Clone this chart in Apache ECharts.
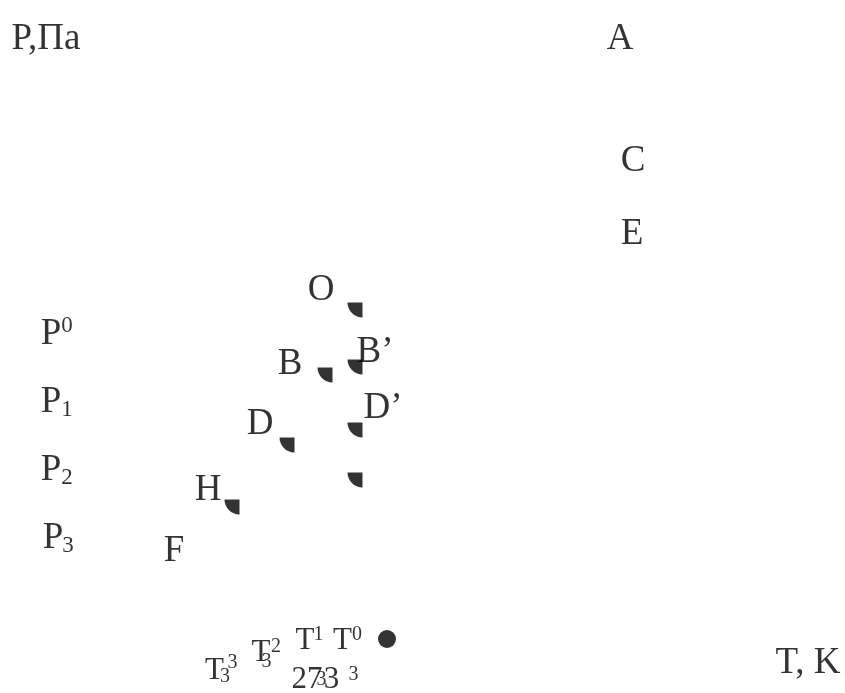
<!DOCTYPE html>
<html>
<head>
<meta charset="utf-8">
<script src="https://cdn.jsdelivr.net/npm/echarts@6/dist/echarts.min.js"></script>
<style>
  html, body { margin: 0; padding: 0; background: #fff; }
  #main { width: 845px; height: 693px; }
</style>
</head>
<body>
<div id="main"></div>
<script>
// P-T diagram, axes hidden; coordinates are in the chart's own T / P units
// big letters (axis names and point names)
const letterText = ['P,Па', 'A', 'C', 'E', 'O', 'B’', 'B', 'D’', 'D', 'H', 'F', 'P', 'P', 'P', 'P', 'T, K'];
const letterT = [46, 620, 633, 632, 321, 375, 290, 383, 260, 208, 174, 51, 51, 51, 53, 808];
const letterP = [39, 39, 161, 234, 290, 352, 364, 408, 424, 490, 551, 334, 402, 470, 538, 663];

// indices of P0..P3
const indexText = ['0', '1', '2', '3'];
const indexT = [67, 67, 67, 68];
const indexP = [326, 410, 478, 546];

// temperature labels under the diagram
const tempText = ['T', 'T', 'T', 'T', '27', '3'];
const tempT = [214.5, 261, 305, 342.5, 307, 331.5];
const tempP = [671, 653, 641, 641, 680, 680];
const tempIdxText = ['3', '3', '3', '2', '1', '0', '3', '3'];
const tempIdxT = [225, 232.5, 266.5, 276, 318.5, 357, 321.5, 353.5];
const tempIdxP = [677, 663, 662, 647, 635, 635, 680, 675];

// equilibrium points (marker shapes)
const markT = [355, 355, 325, 355, 287, 355, 232];
const markP = [310, 367, 375, 430, 445, 480, 507];

// triple point
const dotT = [387];
const dotP = [639];

const pairs = (xs, ys) => xs.map((x, i) => [x, ys[i]]);
const FONT = 'Liberation Serif, Times New Roman, serif';

function textSeries(name, xs, ys, texts, size) {
    return {
        name: name,
        type: 'scatter',
        symbolSize: 1,
        itemStyle: { color: 'rgba(0,0,0,0)' },
        data: pairs(xs, ys),
        label: {
            show: true,
            position: 'inside',
            color: '#000',
            fontFamily: FONT,
            fontSize: size,
            formatter: p => texts[p.dataIndex]
        },
        z: 3
    };
}

const chart = echarts.init(document.getElementById('main'));
chart.setOption({
    animation: false,
    backgroundColor: '#fff',
    grid: { left: 0, right: 0, top: 0, bottom: 0 },
    xAxis: { type: 'value', min: 0, max: 845, show: false },
    yAxis: { type: 'value', min: 0, max: 693, inverse: true, show: false },
    series: [
        {
            name: 'marks',
            type: 'scatter',
            symbol: 'path://M0,0 L10,0 L10,10 C4.5,10 0,5.5 0,0 Z',
            symbolSize: 15,
            itemStyle: { color: '#000' },
            data: pairs(markT, markP)
        },
        {
            name: 'dot',
            type: 'scatter',
            symbol: 'circle',
            symbolSize: 18,
            itemStyle: { color: '#000' },
            data: pairs(dotT, dotP)
        },
        textSeries('letters', letterT, letterP, letterText, 37),
        textSeries('indices', indexT, indexP, indexText, 23),
        textSeries('temps', tempT, tempP, tempText, 31),
        textSeries('tempIdx', tempIdxT, tempIdxP, tempIdxText, 20)
    ]
});
</script>
</body>
</html>
